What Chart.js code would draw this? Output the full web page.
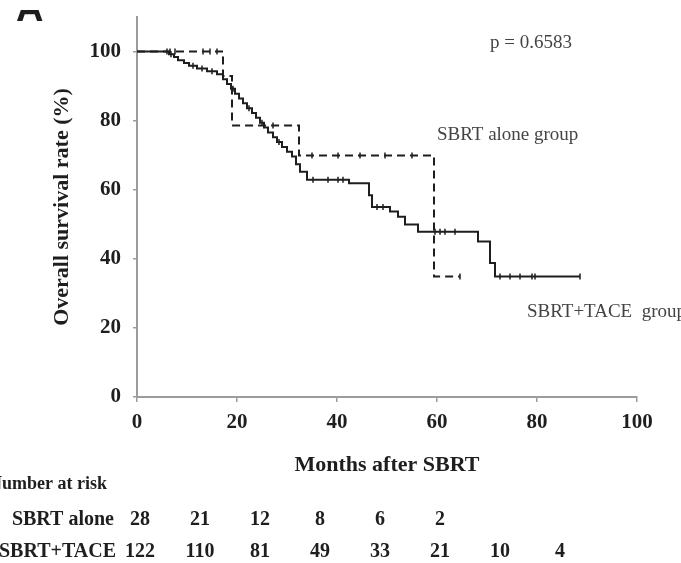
<!DOCTYPE html>
<html>
<head>
<meta charset="utf-8">
<script src="https://cdn.jsdelivr.net/npm/chart.js@4.4.0/dist/chart.umd.min.js"></script>
<style>
html, body { margin: 0; padding: 0; background: #fff; }
#wrap { width: 681px; height: 563px; position: relative; }
</style>
</head>
<body>
<div id="wrap"><canvas id="km"></canvas></div>
<script>
// Kaplan-Meier steps: month of event, survival (%) after it
const aloneTimes = [0, 17.2, 19.0, 32.4, 59.4, 64.6];
const aloneSurv  = [100, 92.9, 78.6, 69.9, 34.9, 34.9];
const aloneCensor = [6.6, 7.6, 13.2, 14.6, 16.0, 27.2, 35.0, 40.2, 44.6, 49.6, 55.0, 64.6];

const taceTimes = [0, 6.4, 7.4, 8.2, 9.4, 10.4, 12.0, 14.0, 16.0, 17.2, 18.0, 18.8, 19.6, 20.4,
  21.2, 22.0, 23.0, 23.8, 24.6, 25.4, 26.2, 27.2, 28.0, 29.0, 30.0, 31.0, 31.8, 32.6, 34.0,
  42.4, 46.4, 47.0, 50.6, 52.2, 53.6, 56.2, 68.2, 70.6, 71.6, 88.6];
const taceSurv = [100, 99.2, 98.4, 97.5, 96.7, 95.9, 95.1, 94.3, 93.4, 92.0, 90.6, 89.2, 87.8, 86.4,
  85.0, 83.6, 82.2, 80.8, 79.4, 78.0, 76.6, 75.2, 73.8, 72.4, 71.0, 69.6, 67.4, 65.2, 62.9,
  61.9, 58.4, 55.0, 53.7, 52.2, 49.9, 47.8, 45.0, 38.8, 34.9, 34.9];
const taceCensor = [6.0, 6.8, 11.2, 13.0, 15.0, 19.2, 22.4, 25.0, 28.4, 35.2, 38.2, 40.2, 41.2,
  48.0, 49.2, 59.6, 60.6, 61.6, 63.6, 72.6, 74.6, 76.6, 79.0, 79.6, 88.6];

const xTicks = [0, 20, 40, 60, 80, 100];
const yTicks = [0, 20, 40, 60, 80, 100];

const riskMonths = [0, 12, 24, 36, 48, 60, 72, 84];
const riskAlone = [28, 21, 12, 8, 6, 2];
const riskTace = [122, 110, 81, 49, 33, 21, 10, 4];

const ink = '#1e1e1e';
const axisGrey = '#9c9c9c';
const serif = '"Liberation Serif", "Times New Roman", serif';

function steps(times, surv) {
    return times.map((t, i) => ({x: t, y: surv[i]}));
}

function survAt(times, surv, t) {
    let s = surv[0];
    for (let i = 0; i < times.length; i++) if (times[i] <= t) s = surv[i];
    return s;
}

function censorPoints(list, times, surv) {
    return list.map(t => ({x: t, y: survAt(times, surv, t)}));
}

const extraText = {
    id: 'extraText',
    afterDraw(chart) {
        const {ctx, scales: {x, y}} = chart;
        ctx.save();

        // panel letter, cut off at the top
        ctx.save();
        ctx.beginPath();
        ctx.rect(0, 10, 80, 20);
        ctx.clip();
        ctx.fillStyle = ink;
        ctx.font = 'bold 38px "Liberation Sans", Arial, sans-serif';
        ctx.textBaseline = 'alphabetic';
        ctx.textAlign = 'left';
        ctx.fillText('A', 16, 21);
        ctx.restore();

        ctx.fillStyle = '#444';
        ctx.font = '19px ' + serif;
        ctx.textAlign = 'left';
        ctx.textBaseline = 'middle';
        ctx.fillText('p = 0.6583', x.getPixelForValue(70.6), y.getPixelForValue(102.5));
        ctx.fillText('SBRT alone group', x.getPixelForValue(60), y.getPixelForValue(75.9));
        ctx.fillText('SBRT+TACE  group', x.getPixelForValue(78), y.getPixelForValue(24.5));

        ctx.fillStyle = ink;
        ctx.font = 'bold 18px ' + serif;
        ctx.fillText('Number at risk', -11, 484);

        ctx.font = 'bold 20px ' + serif;
        ctx.textAlign = 'right';
        ctx.fillText('SBRT alone', 114, 520);
        ctx.fillText('SBRT+TACE', 116, 552);

        ctx.textAlign = 'center';
        riskAlone.forEach((n, i) => ctx.fillText(String(n), x.getPixelForValue(riskMonths[i]) + 3, 520));
        riskTace.forEach((n, i) => ctx.fillText(String(n), x.getPixelForValue(riskMonths[i]) + 3, 552));
        ctx.restore();
    }
};

new Chart(document.getElementById('km'), {
    type: 'line',
    data: {
        datasets: [
            {
                label: 'SBRT+TACE',
                data: steps(taceTimes, taceSurv),
                stepped: 'before',
                borderColor: ink,
                borderWidth: 2,
                pointRadius: 0,
                fill: false
            },
            {
                label: 'SBRT alone',
                data: steps(aloneTimes, aloneSurv),
                stepped: 'before',
                borderColor: ink,
                borderWidth: 2,
                borderDash: [8, 5],
                pointRadius: 0,
                fill: false
            },
            {
                label: 'SBRT+TACE censored',
                data: censorPoints(taceCensor, taceTimes, taceSurv),
                showLine: false,
                pointStyle: 'line',
                rotation: 90,
                pointRadius: 3,
                borderColor: ink,
                borderWidth: 1.5
            },
            {
                label: 'SBRT alone censored',
                data: censorPoints(aloneCensor, aloneTimes, aloneSurv),
                showLine: false,
                pointStyle: 'line',
                rotation: 90,
                pointRadius: 3,
                borderColor: ink,
                borderWidth: 1.5
            }
        ]
    },
    options: {
        responsive: true,
        maintainAspectRatio: false,
        animation: false,
        layout: { padding: { left: 0, right: 44, top: 17, bottom: 0 } },
        plugins: {
            legend: { display: false },
            tooltip: { enabled: false }
        },
        scales: {
            x: {
                type: 'linear',
                min: 0,
                max: 100,
                afterBuildTicks: s => { s.ticks = xTicks.map(v => ({value: v})); },
                afterFit: s => { s.height = 166; s.paddingLeft = 0; s.paddingRight = 0; },
                grid: { drawOnChartArea: false, drawTicks: true, tickLength: 5, color: axisGrey, lineWidth: 1.5 },
                border: { display: true, color: axisGrey, width: 2 },
                ticks: { color: ink, padding: 8, font: { family: serif, size: 21, weight: 'bold' } },
                title: {
                    display: true,
                    text: 'Months after SBRT',
                    color: ink,
                    font: { family: serif, size: 22, weight: 'bold' },
                    padding: { top: 0, bottom: 84 }
                }
            },
            y: {
                type: 'linear',
                min: 0,
                max: 110,
                afterBuildTicks: s => { s.ticks = yTicks.map(v => ({value: v})); },
                afterFit: s => { s.width = 137; s.paddingTop = 0; s.paddingBottom = 0; },
                grid: { drawOnChartArea: false, drawTicks: true, tickLength: 4, color: axisGrey, lineWidth: 1.5 },
                border: { display: true, color: axisGrey, width: 2 },
                ticks: { color: ink, padding: 12, font: { family: serif, size: 21, weight: 'bold' } },
                title: {
                    display: true,
                    text: 'Overall survival rate (%)',
                    color: ink,
                    font: { family: serif, size: 22, weight: 'bold' },
                    padding: { top: 49, bottom: 0 }
                }
            }
        }
    },
    plugins: [extraText]
});
</script>
</body>
</html>
